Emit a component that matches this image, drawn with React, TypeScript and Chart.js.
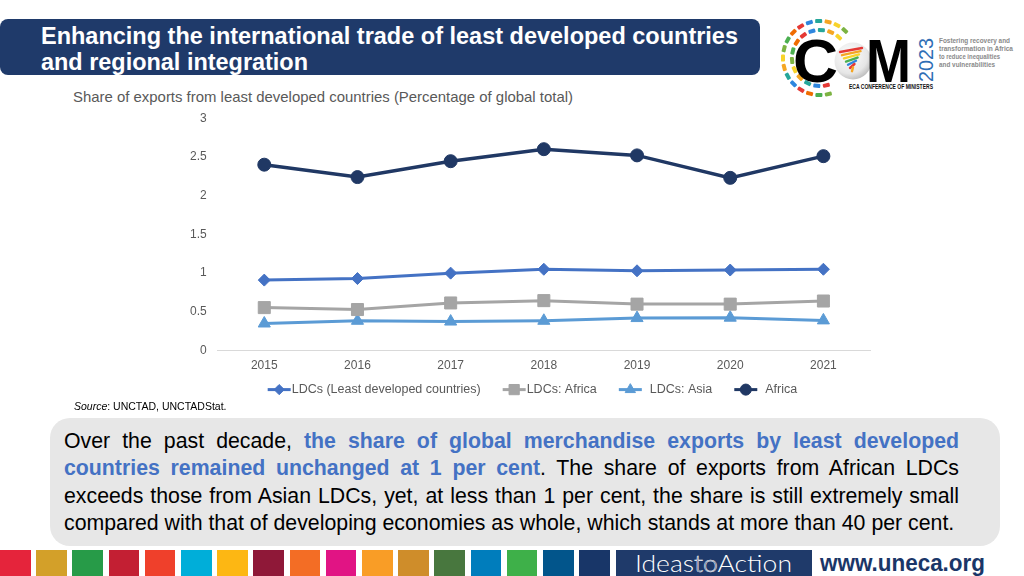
import React, { useEffect, useRef } from "react";
import { Chart, registerables } from "chart.js";
import { drawPoint } from "chart.js/helpers";

Chart.register(...registerables);

const FONT = '"Liberation Sans", Arial, Helvetica, sans-serif';

// ---- data ----
const years = ["2015", "2016", "2017", "2018", "2019", "2020", "2021"];
const ldcs = [0.91, 0.93, 1.0, 1.05, 1.03, 1.04, 1.05];
const ldcsAfrica = [0.555, 0.53, 0.615, 0.645, 0.6, 0.6, 0.64];
const ldcsAsia = [0.35, 0.385, 0.375, 0.385, 0.42, 0.425, 0.39];
const africa = [2.4, 2.24, 2.445, 2.6, 2.52, 2.23, 2.51];
const yTickLabels = ["0", "0.5", "1", "1.5", "2", "2.5", "3"];
const seriesNames = ["LDCs (Least developed countries)", "LDCs: Africa", "  LDCs: Asia", "  Africa"];

const sdgColors = [
  "#E5243B", "#D3A029", "#279B48", "#C31F33", "#EF402B", "#00AED9", "#FDB713", "#8F1838",
  "#F36D25", "#E11484", "#F99D26", "#CF8D2A", "#48773E", "#007DBC", "#3EB049", "#02558B", "#183668",
];

const lineLegend = {
  id: "lineLegend",
  afterDraw(chart: any) {
    const ctx = chart.ctx;
    const area = chart.chartArea;
    ctx.save();
    ctx.font = `12.5px ${FONT}`;
    ctx.textBaseline = "middle";
    const y = area.bottom + 39;
    let x = area.left + 50;
    chart.data.datasets.forEach((ds: any) => {
      ctx.strokeStyle = ds.borderColor;
      ctx.lineWidth = 3;
      ctx.beginPath();
      ctx.moveTo(x, y);
      ctx.lineTo(x + 23, y);
      ctx.stroke();
      ctx.fillStyle = ds.backgroundColor;
      ctx.strokeStyle = ds.borderColor;
      ctx.lineWidth = 1;
      drawPoint(ctx, { pointStyle: ds.pointStyle, radius: ds.pointRadius * 0.85, rotation: 0, borderWidth: 1 }, x + 11.5, y);
      ctx.fillStyle = "#595959";
      ctx.fillText(ds.label, x + 24, y);
      x += 24 + ctx.measureText(ds.label).width + 22;
    });
    ctx.restore();
  },
};

function LineChart() {
  const ref = useRef<HTMLCanvasElement>(null);
  useEffect(() => {
    const chart = new Chart(ref.current as HTMLCanvasElement, {
      type: "line",
      data: {
        labels: years,
        datasets: [
          { label: seriesNames[0], data: ldcs, borderColor: "#4472C4", backgroundColor: "#4472C4", pointStyle: "rectRot", pointRadius: 6, borderWidth: 3, pointBorderWidth: 1 },
          { label: seriesNames[1], data: ldcsAfrica, borderColor: "#A5A5A5", backgroundColor: "#A5A5A5", pointStyle: "rect", pointRadius: 8.5, borderWidth: 3, pointBorderWidth: 1 },
          { label: seriesNames[2], data: ldcsAsia, borderColor: "#5B9BD5", backgroundColor: "#5B9BD5", pointStyle: "triangle", pointRadius: 7, borderWidth: 3, pointBorderWidth: 1 },
          { label: seriesNames[3], data: africa, borderColor: "#203864", backgroundColor: "#203864", pointStyle: "circle", pointRadius: 6.5, borderWidth: 3.5, pointBorderWidth: 1 },
        ] as any,
      },
      options: {
        responsive: false,
        animation: false,
        layout: { padding: { left: 29, right: 20, top: 7, bottom: 24 } },
        plugins: { legend: { display: false }, title: { display: false }, tooltip: { enabled: false } },
        scales: {
          x: {
            offset: true,
            grid: { display: false, drawTicks: false },
            border: { display: true, color: "#D9D9D9", width: 1 },
            ticks: { color: "#595959", font: { size: 12, family: FONT }, padding: 8 },
          },
          y: {
            min: 0,
            max: 3,
            grid: { display: false, drawTicks: false },
            border: { display: false },
            ticks: {
              stepSize: 0.5,
              color: "#595959",
              font: { size: 12, family: FONT },
              padding: 11,
              callback: (_v: any, i: number) => yTickLabels[i],
            },
          },
        },
      },
      plugins: [lineLegend],
    });
    return () => chart.destroy();
  }, []);
  return <canvas ref={ref} width={740} height={305} style={{ display: "block" }} />;
}

function Logo() {
  const dashColors = ["#E53935", "#F5A623", "#4CAF50", "#2E86DE", "#F8D32B", "#EF6C00", "#26A69A", "#7CB342"];
  const dashes: any[] = [];
  const rings = [28, 37];
  let k = 0;
  rings.forEach((r, ri) => {
    const n = ri === 0 ? 13 : 17;
    for (let i = 0; i < n; i++) {
      const a = (77 + (i * 235) / (n - 1)) * (Math.PI / 180);
      const cx = 50 + r * Math.cos(a);
      const cy = 58 + r * Math.sin(a);
      const deg = (a * 180) / Math.PI + 90;
      dashes.push(
        <rect key={`d${k}`} x={cx - 3.5} y={cy - 2} width={7} height={4} rx={1} fill={dashColors[(k * 3) % dashColors.length]} transform={`rotate(${deg} ${cx} ${cy})`} />
      );
      k++;
    }
  });
  const stripeColors = ["#E53935", "#F5A623", "#F8D32B", "#4CAF50", "#2E86DE", "#E53935", "#F5A623"];
  return (
    <svg width={254} height={110} style={{ position: "absolute", left: 770, top: 0 }}>
      <defs>
        <radialGradient id="globe" cx="40%" cy="35%" r="70%">
          <stop offset="0%" stopColor="#ffffff" />
          <stop offset="70%" stopColor="#e6e6e6" />
          <stop offset="100%" stopColor="#b8b8b8" />
        </radialGradient>
      </defs>
      {dashes}
      <text x={23} y={82} fontFamily={FONT} fontWeight={900} fontSize={62} textLength={45} lengthAdjust="spacingAndGlyphs" fill="#000">C</text>
      <circle cx={83} cy={61} r={18.5} fill="url(#globe)" />
      {stripeColors.map((c, i) => (
        <line key={i} x1={70 + i * 2} y1={52 + i * 3.2} x2={92 - i * 1.5} y2={48 + i * 3.2} stroke={c} strokeWidth={2.4} strokeLinecap="round" />
      ))}
      <text x={96} y={82} fontFamily={FONT} fontWeight={900} fontSize={62} textLength={45} lengthAdjust="spacingAndGlyphs" fill="#000">M</text>
      <text x={163} y={60} fontFamily={FONT} fontSize={20} textAnchor="middle" textLength={44} lengthAdjust="spacingAndGlyphs" fill="#2F6EB5" transform="rotate(-90 163 60)">2023</text>
      <g fontFamily={FONT} fontWeight={700} fontSize={8} fill="#8A8A8A">
        <text x={169} y={43} textLength={71} lengthAdjust="spacingAndGlyphs">Fostering recovery and</text>
        <text x={169} y={51} textLength={74} lengthAdjust="spacingAndGlyphs">transformation in Africa</text>
        <text x={169} y={59} textLength={61} lengthAdjust="spacingAndGlyphs">to reduce inequalities</text>
        <text x={169} y={67} textLength={56} lengthAdjust="spacingAndGlyphs">and vulnerabilities</text>
      </g>
      <text x={79} y={89} fontFamily={FONT} fontWeight={700} fontSize={7.5} textLength={84} lengthAdjust="spacingAndGlyphs" fill="#111">ECA CONFERENCE OF MINISTERS</text>
    </svg>
  );
}

export default function App() {
  const lineStyle: any = { textAlign: "justify", textAlignLast: "justify", whiteSpace: "nowrap", height: 27.5 };
  const blue: any = { color: "#4472C4", fontWeight: 700 };
  return (
    <div style={{ position: "fixed", left: 0, top: 0, width: 1024, height: 576, background: "#fff", overflow: "hidden", fontFamily: FONT }}>
      <div style={{ position: "absolute", left: 0, top: 19, width: 760, height: 56, background: "#1F3A6A", borderRadius: 8 }} />
      <svg width={770} height={110} style={{ position: "absolute", left: 0, top: 0 }}>
        <g fontFamily={FONT} fontWeight={700} fontSize={23} fill="#fff">
          <text x={41} y={44} textLength={697} lengthAdjust="spacingAndGlyphs">Enhancing the international trade of least developed countries</text>
          <text x={41} y={70} textLength={267} lengthAdjust="spacingAndGlyphs">and regional integration</text>
        </g>
        <text x={73} y={102} fontFamily={FONT} fontSize={15} fill="#595959" textLength={500} lengthAdjust="spacingAndGlyphs">
          Share of exports from least developed countries (Percentage of global total)
        </text>
      </svg>
      <Logo />
      <div style={{ position: "absolute", left: 150, top: 100 }}>
        <LineChart />
      </div>
      <div style={{ position: "absolute", left: 74, top: 400, fontSize: 10.5, lineHeight: "12px", color: "#000" }}>
        <i>Source</i>: UNCTAD, UNCTADStat.
      </div>
      <div style={{ position: "absolute", left: 50, top: 418, width: 950, height: 128, background: "#E7E7E7", borderRadius: 20 }} />
      <div style={{ position: "absolute", left: 64, top: 427.5, width: 895, fontSize: 21.3, lineHeight: "27.5px", color: "#000" }}>
        <div style={lineStyle}>Over the past decade, <span style={blue}>the share of global merchandise exports by least developed</span></div>
        <div style={lineStyle}><span style={blue}>countries remained unchanged at 1 per cent</span>. The share of exports from African LDCs</div>
        <div style={lineStyle}>exceeds those from Asian LDCs, yet, at less than 1 per cent, the share is still extremely small</div>
        <div style={{ ...lineStyle, textAlignLast: "left" }}>compared with that of developing economies as whole, which stands at more than 40 per cent.</div>
      </div>
      {sdgColors.map((c, i) => (
        <div key={i} style={{ position: "absolute", left: i * 36.2, top: 550, width: 30.7, height: 26, background: c }} />
      ))}
      <div style={{ position: "absolute", left: 616, top: 550, width: 196, height: 26, background: "#1F3A6A" }} />
      <svg width={410} height={30} style={{ position: "absolute", left: 614, top: 548 }}>
        <text x={21} y={24} fontFamily='Lato, "Open Sans", sans-serif' fontWeight={300} fontSize={23} textLength={157} lengthAdjust="spacingAndGlyphs" fill="#fff">
          Ideas<tspan fill="none" stroke="#fff" strokeWidth={0.5}>to</tspan>Action
        </text>
        <text x={206} y={23} fontFamily={FONT} fontWeight={700} fontSize={23} textLength={165} lengthAdjust="spacingAndGlyphs" fill="#1A3668">www.uneca.org</text>
      </svg>
    </div>
  );
}
